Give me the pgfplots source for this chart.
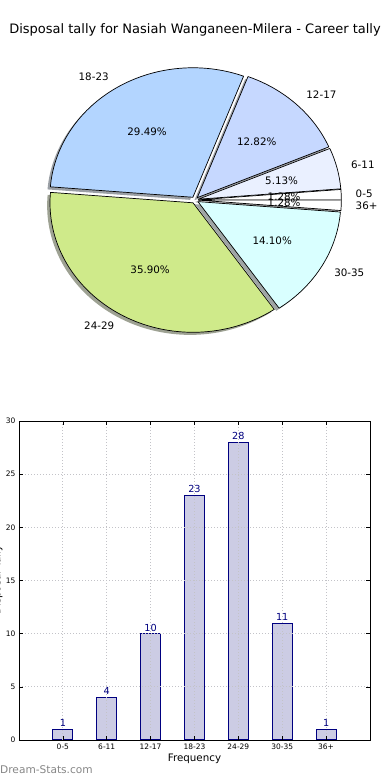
\documentclass[border=0pt]{standalone}
\usepackage{pgfplots}
\pgfplotsset{compat=1.18}
\usepackage{pgfplotstable}
\usepackage{fontspec}
\setmainfont{DejaVu Sans}
\definecolor{c0}{RGB}{255,255,255}
\definecolor{c1}{RGB}{234,240,255}
\definecolor{c2}{RGB}{198,216,255}
\definecolor{c3}{RGB}{179,213,255}
\definecolor{c4}{RGB}{207,234,138}
\definecolor{c5}{RGB}{217,255,255}
\definecolor{c6}{RGB}{255,255,255}
\definecolor{barfill}{RGB}{204,204,228}
\definecolor{navyc}{RGB}{0,0,128}
\definecolor{gridc}{RGB}{195,195,200}
\definecolor{wmark}{RGB}{135,135,135}
\pgfplotstableread{
idx lab val
0 0-5 1
1 6-11 4
2 12-17 10
3 18-23 23
4 24-29 28
5 30-35 11
6 36+ 1
}\piedata
\def\rx{143}\def\ry{129.5}\def\cx{194.8}\def\cy{580}\def\ex{0.025}
\xdef\tot{0}
\foreach \i in {0,...,6}{%
  \pgfplotstablegetelem{\i}{val}\of\piedata
  \pgfmathsetmacro\tt{\tot+\pgfplotsretval}%
  \xdef\tot{\tt}}
\xdef\cum{0}
\foreach \i in {0,...,6}{%
  \pgfplotstablegetelem{\i}{val}\of\piedata
  \let\pv\pgfplotsretval
  \pgfplotstablegetelem{\i}{lab}\of\piedata
  \expandafter\global\expandafter\let\csname pN\i\endcsname\pgfplotsretval
  \pgfmathsetmacro\s{\cum/\tot*360}%
  \pgfmathsetmacro\e{(\cum+\pv)/\tot*360}%
  \pgfmathsetmacro\m{(\s+\e)/2}%
  \pgfmathsetmacro\ox{\cx+\ex*\rx*cos(\m)}%
  \pgfmathsetmacro\oy{\cy+\ex*\ry*sin(\m)}%
  \pgfmathsetmacro\sx{\ox-0.02*\rx}%
  \pgfmathsetmacro\sy{\oy-0.02*\ry}%
  \pgfmathsetmacro\lx{\ox+1.1*\rx*cos(\m)}%
  \pgfmathsetmacro\ly{\oy+1.1*\ry*sin(\m)}%
  \pgfmathsetmacro\px{\ox+0.6*\rx*cos(\m)}%
  \pgfmathsetmacro\py{\oy+0.6*\ry*sin(\m)}%
  \pgfmathsetmacro\pc{\pv/\tot*100}%
  \pgfmathprintnumberto[fixed,fixed zerofill,precision=2,assume math mode=true]{\pc}{\pct}%
  \expandafter\global\expandafter\let\csname pP\i\endcsname\pct
  \pgfmathparse{cos(\m)>0}%
  \ifdim\pgfmathresult pt>0.5pt \gdef\anc{west}\else\gdef\anc{east}\fi
  \expandafter\global\expandafter\let\csname pA\i\endcsname\anc
  \expandafter\xdef\csname pS\i\endcsname{\s}%
  \expandafter\xdef\csname pE\i\endcsname{\e}%
  \expandafter\xdef\csname pX\i\endcsname{\ox}%
  \expandafter\xdef\csname pY\i\endcsname{\oy}%
  \expandafter\xdef\csname sX\i\endcsname{\sx}%
  \expandafter\xdef\csname sY\i\endcsname{\sy}%
  \expandafter\xdef\csname lX\i\endcsname{\lx}%
  \expandafter\xdef\csname lY\i\endcsname{\ly}%
  \expandafter\xdef\csname qX\i\endcsname{\px}%
  \expandafter\xdef\csname qY\i\endcsname{\py}%
  \pgfmathsetmacro\cc{\cum+\pv}%
  \xdef\cum{\cc}}
\begin{document}
\begin{tikzpicture}
\useasboundingbox (0,0) rectangle (390pt,780pt);
\fill[white] (0,0) rectangle (390pt,780pt);
\node[font=\fontsize{13}{15}\selectfont] at (195pt,750pt) {Disposal tally for Nasiah Wanganeen-Milera - Career tally};
\begin{axis}[at={(0pt,0pt)}, anchor=south west, scale only axis, width=390pt, height=780pt,
  xmin=0, xmax=390, ymin=0, ymax=780, hide axis, clip=false]
\pgfplotsinvokeforeach{0,...,6}{
  \fill[c#1!30!black, opacity=0.5] (axis cs:\csname sX#1\endcsname,\csname sY#1\endcsname) -- ++(\csname pS#1\endcsname:\rx pt and \ry pt) arc[start angle=\csname pS#1\endcsname, end angle=\csname pE#1\endcsname, x radius=\rx pt, y radius=\ry pt] -- cycle;
}
\pgfplotsinvokeforeach{0,...,6}{
  \filldraw[fill=c#1, draw=black, line width=0.7pt, line join=round] (axis cs:\csname pX#1\endcsname,\csname pY#1\endcsname) -- ++(\csname pS#1\endcsname:\rx pt and \ry pt) arc[start angle=\csname pS#1\endcsname, end angle=\csname pE#1\endcsname, x radius=\rx pt, y radius=\ry pt] -- cycle;
}
\pgfplotsinvokeforeach{0,...,6}{
  \node[anchor=\csname pA#1\endcsname, inner sep=0pt, font=\fontsize{10.3}{12}\selectfont] at (axis cs:\csname lX#1\endcsname,\csname lY#1\endcsname) {\csname pN#1\endcsname};
  \node[inner sep=0pt, font=\fontsize{10.3}{12}\selectfont] at (axis cs:\csname qX#1\endcsname,\csname qY#1\endcsname) {\csname pP#1\endcsname\%};
}
\end{axis}
\begin{axis}[at={(19pt,40pt)}, anchor=south west, scale only axis, width=351pt, height=319pt,
  xmin=-1, xmax=7, ymin=0, ymax=30,
  xtick={0,...,6}, xticklabels={0-5,6-11,12-17,18-23,24-29,30-35,36+},
  ytick={0,5,...,30},
  ybar, bar width=20pt, axis on top,
  grid=major, major grid style={gridc, dash pattern=on 1.4pt off 1.6pt, line width=0.8pt},
  tick align=inside, major tick length=4pt, tick style={black, line width=0.6pt},
  axis line style={line width=0.9pt},
  ticklabel style={font=\fontsize{7.5}{8}\selectfont},
  /pgf/number format/assume math mode=true,
  xlabel={Frequency}, xlabel style={font=\fontsize{10.3}{12}\selectfont, yshift=2pt},
  nodes near coords, nodes near coords style={font=\fontsize{9.7}{11}\selectfont, text=navyc, inner sep=2pt}]
\addplot[fill=barfill, draw=navyc, line width=1pt] table[x=idx, y=val] {\piedata};
\end{axis}
\node[rotate=90, anchor=south, inner sep=0pt, font=\fontsize{10.3}{12}\selectfont] at (2.7pt,200pt) {Disposal Tally};
\node[anchor=west, inner sep=0pt, text=wmark, font=\fontsize{10.6}{12}\selectfont] at (0pt,10pt) {Dream-Stats.com};
\end{tikzpicture}
\end{document}
